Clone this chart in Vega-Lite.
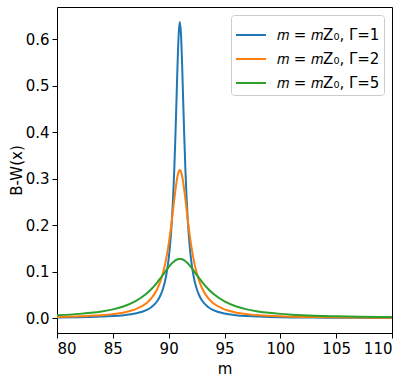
{
  "$schema": "https://vega.github.io/schema/vega-lite/v6.json",
  "width": 335,
  "height": 326,
  "autosize": {"type": "none"},
  "padding": {"left": 57, "top": 7, "right": 21, "bottom": 48},
  "background": "white",
  "config": {
    "font": "DejaVu Sans",
    "view": {"stroke": "black", "strokeWidth": 1},
    "axis": {
      "grid": false,
      "domain": false,
      "tickColor": "black",
      "tickSize": 5,
      "labelFontSize": 15,
      "labelColor": "black",
      "titleFontSize": 15,
      "titleFontWeight": "normal",
      "titleColor": "black",
      "labelPadding": 3
    }
  },
  "data": {
    "values": [
      {"m": 80, "G1": 0.00131, "G2": 0.00261, "G5": 0.00625},
      {"m": 82, "G1": 0.00196, "G2": 0.00388, "G5": 0.00912},
      {"m": 83, "G1": 0.00248, "G2": 0.00490, "G5": 0.01133},
      {"m": 84, "G1": 0.00323, "G2": 0.00637, "G5": 0.01440},
      {"m": 85, "G1": 0.00439, "G2": 0.00860, "G5": 0.01883},
      {"m": 86, "G1": 0.00630, "G2": 0.01224, "G5": 0.02546},
      {"m": 87, "G1": 0.00979, "G2": 0.01872, "G5": 0.03577},
      {"m": 88, "G1": 0.01721, "G2": 0.03183, "G5": 0.05218},
      {"m": 88.5, "G1": 0.02449, "G2": 0.04390, "G5": 0.06366},
      {"m": 89, "G1": 0.03745, "G2": 0.06366, "G5": 0.07764},
      {"m": 89.25, "G1": 0.04805, "G2": 0.07835, "G5": 0.08545},
      {"m": 89.5, "G1": 0.06366, "G2": 0.09794, "G5": 0.09362},
      {"m": 89.75, "G1": 0.08781, "G2": 0.12422, "G5": 0.10186},
      {"m": 90, "G1": 0.12732, "G2": 0.15915, "G5": 0.10976},
      {"m": 90.2, "G1": 0.17883, "G2": 0.19409, "G5": 0.11550},
      {"m": 90.3, "G1": 0.21508, "G2": 0.21363, "G5": 0.11807},
      {"m": 90.4, "G1": 0.26091, "G2": 0.23405, "G5": 0.12039},
      {"m": 90.5, "G1": 0.31831, "G2": 0.25465, "G5": 0.12243},
      {"m": 90.6, "G1": 0.38818, "G2": 0.27441, "G5": 0.12415},
      {"m": 90.7, "G1": 0.46810, "G2": 0.29203, "G5": 0.12552},
      {"m": 90.8, "G1": 0.54881, "G2": 0.30607, "G5": 0.12651},
      {"m": 90.9, "G1": 0.61214, "G2": 0.31516, "G5": 0.12712},
      {"m": 91, "G1": 0.63662, "G2": 0.31831, "G5": 0.12732},
      {"m": 91.1, "G1": 0.61214, "G2": 0.31516, "G5": 0.12712},
      {"m": 91.2, "G1": 0.54881, "G2": 0.30607, "G5": 0.12651},
      {"m": 91.3, "G1": 0.46810, "G2": 0.29203, "G5": 0.12552},
      {"m": 91.4, "G1": 0.38818, "G2": 0.27441, "G5": 0.12415},
      {"m": 91.5, "G1": 0.31831, "G2": 0.25465, "G5": 0.12243},
      {"m": 91.6, "G1": 0.26091, "G2": 0.23405, "G5": 0.12039},
      {"m": 91.7, "G1": 0.21508, "G2": 0.21363, "G5": 0.11807},
      {"m": 91.8, "G1": 0.17883, "G2": 0.19409, "G5": 0.11550},
      {"m": 92, "G1": 0.12732, "G2": 0.15915, "G5": 0.10976},
      {"m": 92.25, "G1": 0.08781, "G2": 0.12422, "G5": 0.10186},
      {"m": 92.5, "G1": 0.06366, "G2": 0.09794, "G5": 0.09362},
      {"m": 92.75, "G1": 0.04805, "G2": 0.07835, "G5": 0.08545},
      {"m": 93, "G1": 0.03745, "G2": 0.06366, "G5": 0.07764},
      {"m": 93.5, "G1": 0.02449, "G2": 0.04390, "G5": 0.06366},
      {"m": 94, "G1": 0.01721, "G2": 0.03183, "G5": 0.05218},
      {"m": 95, "G1": 0.00979, "G2": 0.01872, "G5": 0.03577},
      {"m": 96, "G1": 0.00630, "G2": 0.01224, "G5": 0.02546},
      {"m": 97, "G1": 0.00439, "G2": 0.00860, "G5": 0.01883},
      {"m": 98, "G1": 0.00323, "G2": 0.00637, "G5": 0.01440},
      {"m": 99, "G1": 0.00248, "G2": 0.00490, "G5": 0.01133},
      {"m": 100, "G1": 0.00196, "G2": 0.00388, "G5": 0.00912},
      {"m": 101, "G1": 0.00159, "G2": 0.00315, "G5": 0.00749},
      {"m": 102, "G1": 0.00131, "G2": 0.00261, "G5": 0.00625},
      {"m": 103, "G1": 0.00110, "G2": 0.00220, "G5": 0.00530},
      {"m": 105, "G1": 0.00081, "G2": 0.00162, "G5": 0.00393},
      {"m": 107, "G1": 0.00062, "G2": 0.00124, "G5": 0.00303},
      {"m": 110, "G1": 0.00044, "G2": 0.00088, "G5": 0.00217}
    ]
  },
  "transform": [
    {"fold": ["G1", "G2", "G5"], "as": ["series", "bw"]}
  ],
  "mark": {"type": "line", "strokeWidth": 2, "clip": true, "interpolate": "monotone"},
  "encoding": {
    "x": {
      "field": "m",
      "type": "quantitative",
      "title": "m",
      "scale": {"domain": [80, 110], "nice": false, "zero": false},
      "axis": {"values": [80, 85, 90, 95, 100, 105, 110], "titlePadding": 5}
    },
    "y": {
      "field": "bw",
      "type": "quantitative",
      "title": "B-W(x)",
      "scale": {"domain": [-0.032, 0.669], "nice": false, "zero": false},
      "axis": {"values": [0, 0.1, 0.2, 0.3, 0.4, 0.5, 0.6], "format": ".1f", "titlePadding": 1}
    },
    "color": {
      "field": "series",
      "type": "nominal",
      "scale": {"domain": ["G1", "G2", "G5"], "range": ["#1f77b4", "#ff7f0e", "#2ca02c"]},
      "legend": {
        "title": null,
        "orient": "top-right",
        "offset": 8,
        "labelExpr": "'𝑚 = 𝑚Z₀, Γ=' + slice(datum.label, 1)",
        "labelFontSize": 15,
        "labelColor": "black",
        "symbolType": "stroke",
        "symbolSize": 900,
        "symbolStrokeWidth": 2,
        "rowPadding": -3,
        "padding": 4,
        "strokeColor": "#cccccc",
        "fillColor": "white",
        "cornerRadius": 3,
        "labelOffset": 10
      }
    }
  }
}
